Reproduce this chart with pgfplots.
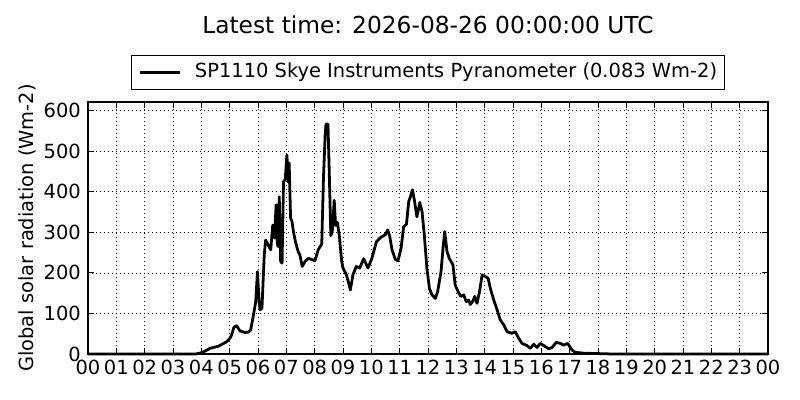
\documentclass[border=0pt]{standalone}
\usepackage{fontspec}
\setmainfont{DejaVu Sans}
\usepackage{pgfplots}
\pgfplotsset{compat=1.18}
\pgfplotstableread{
h v
0 0
3.80 0
3.95 2
4.10 6
4.31 14
4.60 19
4.89 30
5.00 38
5.07 47
5.15 66
5.25 70
5.36 57
5.54 53
5.66 54
5.74 59
5.84 96
5.92 129
5.98 203
6.04 129
6.07 109
6.14 113
6.22 244
6.27 281
6.36 269
6.45 257
6.52 318
6.58 286
6.64 368
6.68 269
6.72 265
6.75 388
6.80 228
6.85 224
6.90 425
6.96 430
7.02 491
7.07 424
7.10 471
7.15 335
7.20 327
7.25 302
7.31 281
7.37 264
7.42 252
7.48 244
7.56 216
7.66 228
7.78 236
8.01 230
8.13 258
8.25 271
8.31 434
8.37 541
8.40 567
8.47 567
8.52 434
8.57 292
8.62 300
8.69 379
8.74 317
8.80 325
8.87 292
8.95 230
9.00 212
9.12 195
9.20 175
9.26 158
9.35 195
9.47 216
9.59 212
9.73 235
9.88 212
10.02 236
10.18 277
10.32 287
10.49 294
10.58 306
10.65 290
10.73 257
10.85 233
10.94 230
11.05 261
11.14 314
11.24 320
11.32 376
11.38 388
11.45 405
11.52 379
11.61 338
11.71 374
11.79 351
11.87 294
11.96 212
12.05 162
12.14 146
12.26 137
12.34 154
12.46 203
12.53 261
12.59 302
12.67 253
12.75 236
12.88 220
12.96 170
13.06 154
13.16 142
13.26 146
13.35 129
13.44 133
13.49 122
13.58 130
13.65 142
13.73 125
13.82 154
13.91 195
14.02 191
14.12 187
14.20 162
14.32 133
14.44 109
14.55 84
14.67 72
14.79 55
14.96 51
15.08 55
15.20 39
15.32 26
15.49 21
15.61 14
15.73 24
15.85 16
15.96 26
16.08 21
16.26 13
16.38 16
16.53 29
16.67 26
16.79 22
16.93 26
17.08 10
17.20 4
17.50 2
18.00 1
18.50 0
24 0
}\datatable
\begin{document}
\begin{tikzpicture}
\path[use as bounding box] (0,0) rectangle (576pt,288pt);
\begin{axis}[
  at={(63.36pt,33.12pt)}, anchor=south west,
  scale only axis, width=489.6pt, height=181.44pt,
  xmin=0, xmax=24, ymin=0, ymax=621.5,
  xtick={0,1,...,24},
  xticklabels={00,01,02,03,04,05,06,07,08,09,10,11,12,13,14,15,16,17,18,19,20,21,22,23,00},
  ytick={0,100,...,600},
  tick align=inside, tick pos=both,
  major tick length=4pt,
  major tick style={black, line width=0.6pt},
  axis line style={black, line width=0.8pt},
  grid=major,
  major grid style={black, line width=0.5pt, dash pattern=on 0.72pt off 2.16pt},
  /pgf/number format/assume math mode=true,
  tick label style={font=\fontsize{14}{16.8}\selectfont, inner sep=0pt},
  xticklabel style={anchor=base, yshift=-15.1pt},
  yticklabel style={anchor=east, xshift=-5pt},
  scaled ticks=false,
  ylabel={Global solar radiation (Wm-2)},
  ylabel style={at={(axis description cs:-0.0804,0.5)}, anchor=base, font=\fontsize{14}{16.8}\selectfont},
  title={Latest time: 2026-08-26 00:00:00 UTC},
  title style={at={(axis description cs:0.5,1)}, anchor=base, yshift=43.4pt, font=\fontsize{16.8}{20}\selectfont, inner sep=0pt},
  legend style={
    at={(0.5,1)}, anchor=south, yshift=8.64pt,
    draw=black, line width=0.8pt, fill=white,
    inner xsep=5.5pt, inner ysep=0pt,
    font=\fontsize{14}{16.8}\selectfont,
    nodes={inner sep=0pt, text height=16.3pt, text depth=8.4pt},
    /tikz/every odd column/.append style={column sep=9.6pt},
  },
  legend cell align=left,
  legend image code/.code={\draw[#1] (0pt,0pt) -- (28.8pt,0pt);},
  clip=false,
]
\addplot[black, line width=2pt, line join=round] table[x=h, y=v] {\datatable};
\addlegendentry{SP1110 Skye Instruments Pyranometer (0.083 Wm-2)}
\end{axis}
\end{tikzpicture}
\end{document}
